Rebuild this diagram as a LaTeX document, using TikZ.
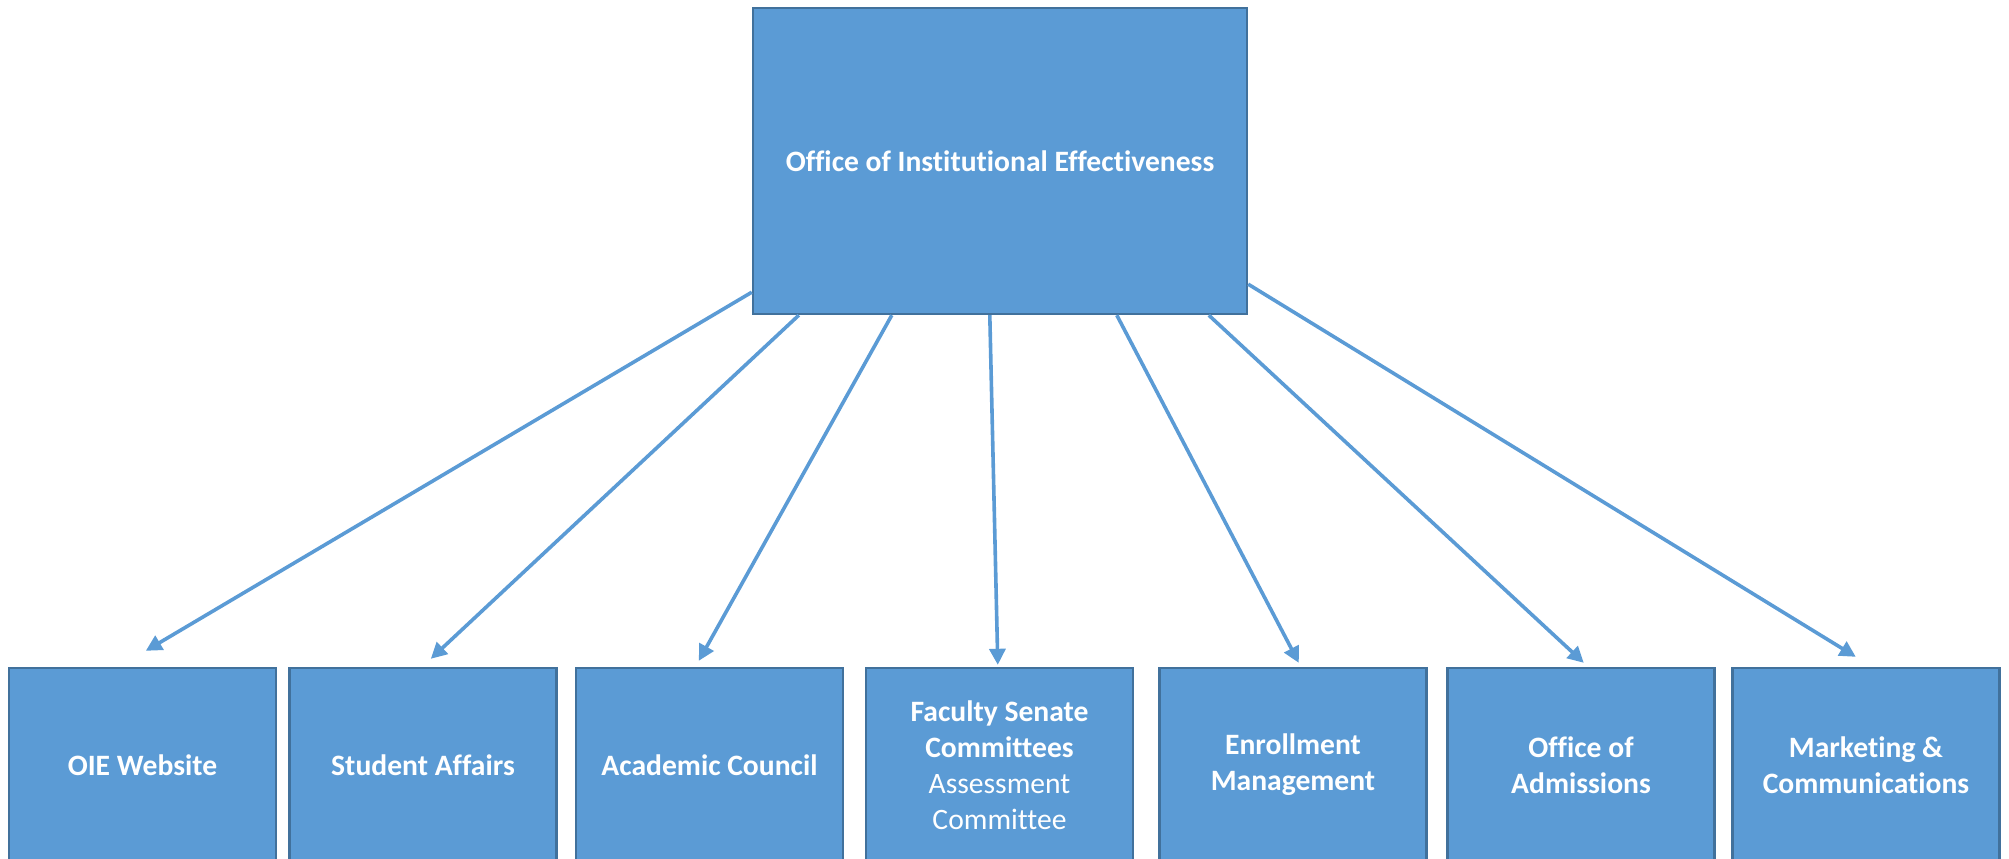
\documentclass[tikz,border=0pt]{standalone}
\usepackage{fontspec}
\setmainfont{Carlito}[Ligatures=NoCommon]
\usetikzlibrary{arrows.meta,calc}
\definecolor{boxfill}{HTML}{5B9BD5}
\definecolor{boxline}{HTML}{41719C}
\definecolor{arrowcol}{HTML}{5B9BD5}
\begin{document}
\begin{tikzpicture}[x=0.5pt,y=-0.5pt,
  orgbox/.style={draw=boxline, fill=boxfill, line width=1.2pt, inner sep=0pt,
    minimum width=133.5pt, minimum height=97pt, text=white, align=center,
    font=\fontsize{14.8}{18}\selectfont\bfseries},
  topbox/.style={orgbox, minimum width=247pt, minimum height=153pt},
  arr/.style={draw=arrowcol, line width=1.8pt, -{Triangle[length=8pt,width=8pt]}}]
\useasboundingbox (0,0) rectangle (2009,858);
\node[topbox] (top) at (1000,161) {Office of Institutional Effectiveness};
\node[orgbox] (b1) at (142.5,765) {OIE Website};
\node[orgbox] (b2) at (423,765) {Student Affairs};
\node[orgbox] (b3) at (709.5,765) {Academic Council};
\node[orgbox] (b4) at (999.5,765) {Faculty Senate\\Committees\\{\mdseries Assessment}\\{\mdseries Committee}};
\node[orgbox] (b5) at (1293,765) {Enrollment\\Management};
\node[orgbox] (b6) at (1581,765) {Office of\\Admissions};
\node[orgbox] (b7) at (1866,765) {Marketing \&\\Communications};
\draw[arr] ($(top.south west)+(0,-23)$) -- ($(b1.north west)+(138,-16)$);
\draw[arr] ($(top.south west)+(47,0)$) -- ($(b2.north west)+(142.5,-8)$);
\draw[arr] ($(top.south west)+(140,0)$) -- ($(b3.north west)+(124,-6)$);
\draw[arr] ($(top.south west)+(238,0)$) -- ($(b4.north west)+(133,-2)$);
\draw[arr] ($(top.south west)+(365,0)$) -- ($(b5.north west)+(140.5,-4)$);
\draw[arr] ($(top.south west)+(457,0)$) -- ($(b6.north west)+(137.5,-4)$);
\draw[arr] ($(top.south east)+(0,-31)$) -- ($(b7.north west)+(124.5,-10)$);
\end{tikzpicture}
\end{document}
